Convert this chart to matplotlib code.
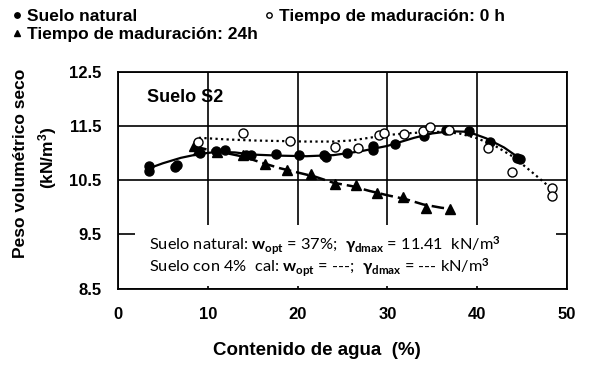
import matplotlib
matplotlib.use('Agg')
import matplotlib.pyplot as plt
from matplotlib.patches import Rectangle

plt.rcParams['font.family'] = ['Liberation Sans', 'DejaVu Sans']
plt.rcParams['font.weight'] = 'bold'
plt.rcParams['axes.labelweight'] = 'bold'
plt.rcParams['mathtext.fontset'] = 'custom'
plt.rcParams['mathtext.rm'] = 'Lato'
plt.rcParams['mathtext.it'] = 'Lato'
plt.rcParams['mathtext.bf'] = 'Lato:bold'
plt.rcParams['mathtext.fallback'] = 'stixsans'

# Suelo natural (measured points)
nat_w = [3.5, 3.5, 6.3, 6.6, 9.1, 10.9, 11.9, 14.3, 14.8, 17.6, 20.2, 22.9, 23.2,
         25.5, 28.4, 28.4, 30.8, 34.1, 36.5, 39.1, 41.4, 44.4, 44.8]
nat_g = [10.76, 10.67, 10.74, 10.77, 11.0, 11.04, 11.06, 10.96, 10.96, 10.98, 10.97,
         10.97, 10.92, 10.99, 11.12, 11.05, 11.17, 11.32, 11.42, 11.41, 11.2, 10.91, 10.89]
# Tiempo de maduracion 0 h
h0_w = [8.95, 13.9, 19.1, 24.2, 26.7, 29.1, 29.6, 31.8, 34.0, 34.8, 36.9, 41.2, 43.9, 48.3, 48.3]
h0_g = [11.21, 11.37, 11.22, 11.11, 11.10, 11.33, 11.37, 11.35, 11.41, 11.48, 11.42,
        11.10, 10.65, 10.36, 10.20]
# Tiempo de maduracion 24 h
h24_w = [8.5, 8.9, 11.0, 13.9, 16.4, 18.8, 21.5, 24.2, 26.5, 28.8, 31.7, 34.3, 37.0]
h24_g = [11.13, 11.06, 11.02, 10.97, 10.79, 10.68, 10.62, 10.42, 10.41, 10.26, 10.18, 9.99, 9.97]

# trend curves
nat_fit_w = [3.5, 5, 7, 9, 11, 13, 15, 18, 21, 24, 27, 30, 33, 35, 37, 39, 41, 43, 45]
nat_fit_g = [10.72, 10.81, 10.91, 10.98, 11.02, 11.01, 10.97, 10.95, 10.94, 10.96, 11.03,
             11.13, 11.28, 11.36, 11.40, 11.39, 11.27, 11.10, 10.87]
h0_fit_w = [9, 12, 15, 18, 21, 24, 26, 28, 30, 32, 34, 36, 38, 40, 42, 44, 46, 48]
h0_fit_g = [11.28, 11.25, 11.23, 11.22, 11.21, 11.21, 11.23, 11.28, 11.33, 11.36, 11.38,
            11.39, 11.36, 11.27, 11.13, 10.93, 10.66, 10.38]
h24_fit_w = [8.5, 10, 12, 14, 16, 18, 20, 22, 24, 26, 28, 30, 32, 34, 36, 37]
h24_fit_g = [11.12, 11.06, 11.0, 10.93, 10.82, 10.72, 10.64, 10.56, 10.45, 10.39, 10.30,
             10.22, 10.15, 10.05, 9.99, 9.97]

x_ticks = [0, 10, 20, 30, 40, 50]
y_ticks = [8.5, 9.5, 10.5, 11.5, 12.5]

fig = plt.figure(figsize=(5.9, 3.69), dpi=100)
ax = fig.add_axes([0.2, 0.218, 0.761, 0.588])

ax.plot(nat_fit_w, nat_fit_g, color='black', lw=1.6, zorder=3)
ax.plot(h0_fit_w, h0_fit_g, color='black', lw=1.6, ls=(0, (1, 1.5)), zorder=3)
ax.plot(h24_fit_w, h24_fit_g, color='black', lw=1.8, ls=(0, (5, 2)), zorder=3)

ax.plot(nat_w, nat_g, 'o', color='black', ms=6.5, zorder=4, label='Suelo natural')
ax.plot(h24_w, h24_g, '^', color='black', ms=6.5, zorder=4, label='Tiempo de maduración: 24h')
ax.plot(h0_w, h0_g, 'o', mfc='white', mec='black', mew=1, ms=6.5, zorder=4,
        label='Tiempo de maduración: 0 h')

ax.set_xlim(0, 50)
ax.set_ylim(8.5, 12.5)
ax.set_xticks(x_ticks)
ax.set_yticks(y_ticks)
ax.tick_params(length=0, labelsize=12)
ax.tick_params(axis='x', pad=13)
ax.tick_params(axis='y', pad=12)
ax.grid(True, color='black', lw=1.2)
ax.set_axisbelow(True)
for s in ax.spines.values():
    s.set_linewidth(1.3)

ax.add_patch(Rectangle((1.9, 8.55), 46.9, 1.12, facecolor='white', edgecolor='none', zorder=2))

ax.text(3.2, 12.03, 'Suelo S2', fontsize=13, va='center', ha='left')
ax.text(3.4, 9.28, r'Suelo natural: $\mathbf{w}_{\mathrm{opt}}$ = 37%;  $\gamma_{\mathrm{dmax}}$ = 11.41  kN/m$^{3}$',
        fontsize=11.8, family='Lato', fontweight='normal', va='center')
ax.text(3.4, 8.89, r'Suelo con 4%  cal: $\mathbf{w}_{\mathrm{opt}}$ = ---;  $\gamma_{\mathrm{dmax}}$ = --- kN/m$^{3}$',
        fontsize=11.8, family='Lato', fontweight='normal', va='center')

ax.set_xlabel('Contenido de agua  (%)', fontsize=13.5)
ax.xaxis.set_label_coords(0.443, -0.245)
fig.text(0.035, 0.556, 'Peso volumétrico seco', rotation=90, fontsize=12.5, ha='center', va='center')
fig.text(0.08, 0.574, '(kN/m$^\\mathregular{3}$)', rotation=90, fontsize=12.5, ha='center', va='center')

fig.legend(loc='upper left', bbox_to_anchor=(0.005, 1.0), ncol=2, frameon=False, fontsize=12.5,
           markerscale=0.6, handlelength=0.6, handletextpad=0.3, columnspacing=0.3,
           labelspacing=0.15, borderaxespad=0.1)

fig.savefig('out.png', dpi=100)
